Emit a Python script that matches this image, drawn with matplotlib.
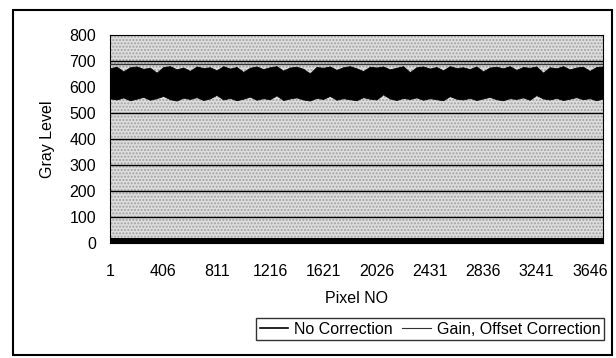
import matplotlib.pyplot as plt
import numpy as np
from matplotlib.patches import Rectangle

plt.rcParams['font.family'] = ['Liberation Sans', 'DejaVu Sans']

# x tick labels (pixel numbers)
x_ticks = [1, 406, 811, 1216, 1621, 2026, 2431, 2836, 3241, 3646]
y_ticks = [0, 100, 200, 300, 400, 500, 600, 700, 800]

# No Correction: envelope, one pair per block of 50 pixels
no_corr_top = [672, 678, 660, 676, 679, 670, 674, 655, 677, 680, 668, 675, 662, 679, 673,
               676, 664, 680, 671, 677, 658, 674, 679, 669, 676, 680, 663, 675, 678, 670,
               652, 677, 674, 679, 666, 676, 680, 672, 661, 678, 675, 679, 668, 674, 680,
               657, 676, 679, 671, 677, 664, 680, 673, 676, 669, 679, 660, 675, 678, 672,
               680, 666, 677, 674, 679, 655, 676, 672, 680, 668, 675, 678, 662, 677, 679]
no_corr_low = [556, 552, 560, 549, 555, 562, 551, 557, 566, 553, 548, 559, 554, 561, 550,
               556, 570, 552, 558, 549, 555, 563, 551, 557, 553, 568, 550, 556, 560, 552,
               548, 558, 554, 566, 551, 557, 553, 549, 561, 555, 552, 572, 556, 550, 558,
               554, 560, 551, 557, 553, 549, 565, 555, 552, 558, 550, 556, 562, 553, 549,
               557, 554, 560, 551, 569, 556, 552, 558, 550, 555, 561, 553, 557, 549, 556]
block = 50

# Gain, Offset Correction: flat level
gain_level = 690
n_pixels = 3745

fig = plt.figure(figsize=(6.16, 3.58), dpi=100)
fig.patches.append(Rectangle((13 / 616, 3 / 358), 599 / 616, 345 / 358,
                             transform=fig.transFigure, fill=False,
                             edgecolor='black', linewidth=1.5))

ax = fig.add_axes([110 / 616, 1 - 243 / 358, 493 / 616, 208 / 358])
ax.set_facecolor('#dedede')
ax.add_patch(Rectangle((0, 0), 1, 1, transform=ax.transAxes, facecolor='none',
                       hatch='.....', edgecolor='#a0a0a0', linewidth=0, zorder=0))

for v in y_ticks[1:-1]:
    ax.axhline(v, color='black', linewidth=1, zorder=1)

xs = np.linspace(1, n_pixels, len(no_corr_top))
ax.fill_between(xs, no_corr_low, no_corr_top, color='black', linewidth=0.6,
                edgecolor='black', zorder=2)
ax.plot([1, n_pixels], [gain_level, gain_level], color='#333333', linewidth=1, zorder=3)

# thick black strip along the bottom of the plot
ax.axhspan(0, 20, color='black', linewidth=0, zorder=2)

ax.set_xlim(1, n_pixels)
ax.set_ylim(0, 800)
ax.set_xticks(x_ticks)
ax.set_yticks(y_ticks)
ax.tick_params(length=0, labelsize=11.5)
ax.tick_params(axis='y', pad=10)
ax.tick_params(axis='x', pad=15)
for s in ax.spines.values():
    s.set_linewidth(0.8)

ax.set_ylabel('Gray Level', fontsize=11.5, labelpad=10)
ax.set_xlabel('Pixel NO', fontsize=11.5, labelpad=9)

h1, = ax.plot([], [], color='black', linewidth=1.2)
h2, = ax.plot([], [], color='#333333', linewidth=0.8)
leg = fig.legend([h1, h2], ['No Correction', 'Gain, Offset Correction'],
                 loc='center', bbox_to_anchor=(430 / 616, 1 - 329 / 358), ncol=2,
                 frameon=True, fancybox=False, edgecolor='black', fontsize=11.5,
                 handlelength=1.8, handletextpad=0.35, columnspacing=0.6,
                 borderpad=0.25)
leg.get_frame().set_linewidth(1)

fig.savefig('out.png', dpi=100)
